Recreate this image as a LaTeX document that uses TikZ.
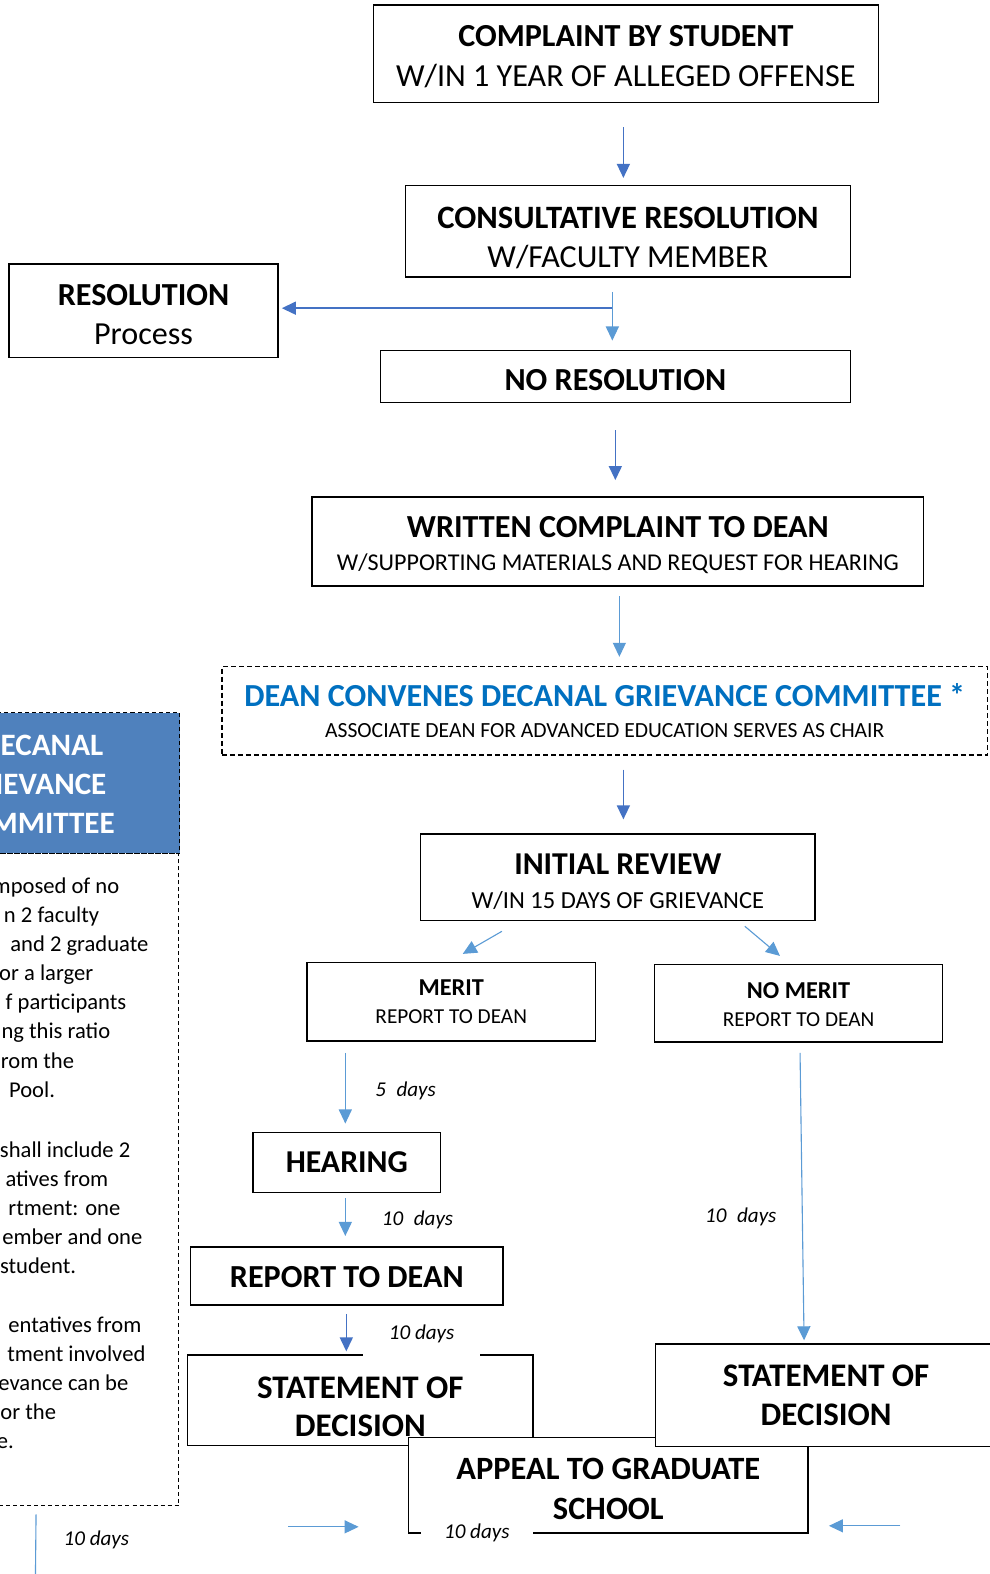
\documentclass[tikz,border=0pt]{standalone}
\usepackage{fontspec}
\setmainfont{Carlito}
\usetikzlibrary{arrows.meta,calc}
\definecolor{arrD}{RGB}{68,114,196}
\definecolor{arrL}{RGB}{91,155,213}
\definecolor{hdrblue}{RGB}{79,129,189}
\definecolor{txtblue}{RGB}{0,112,192}
\newcommand\mystrut[1]{\rule{0pt}{#1pt}}
\begin{document}
\begin{tikzpicture}[x=1pt,y=-1pt,
  box/.style={draw=black,line width=1.5pt,fill=white,inner sep=0pt,align=center,font=\fontsize{32}{39}\selectfont},
  dbox/.style={draw=black,line width=1.4pt,dash pattern=on 5pt off 3pt,inner sep=0pt,align=center},
  conD/.style={draw=arrD,line width=1.4pt,-{Triangle[length=14pt,width=13pt]}},
  conL/.style={draw=arrL,line width=1.1pt,-{Triangle[length=14pt,width=13pt]}},
  days/.style={font=\fontsize{21}{21}\selectfont\itshape,inner sep=0pt},
  frag/.style={anchor=base east,inner sep=0pt,font=\fontsize{22.5}{29}\selectfont}]
\useasboundingbox (0,0) rectangle (986,1568);
\clip (0,0) rectangle (986,1568);
\fill[white] (0,0) rectangle (986,1568);

% left panel
\node[dbox,line width=1.2pt,dash pattern=on 4pt off 3pt,minimum width=284pt,minimum height=650pt] (pbody) at (36,1175) {};
\node[dbox,line width=1.2pt,dash pattern=on 4pt off 3pt,fill=hdrblue,text=white,minimum width=284pt,minimum height=140pt,font=\fontsize{31}{39}\selectfont\bfseries] (hdr) at (37,780) {\hspace*{10pt}\mystrut{23}DECANAL\\\hspace*{-10pt}GRIEVANCE\\\hspace*{-6pt}COMMITTEE};
\node[frag] (f1) at (119,890) {mposed of no};
\node[frag] (f2) at (99,919) {n 2 faculty};
\node[frag] (f3) at (148,948) {and 2 graduate};
\node[frag] (f4) at (93,977) {or a larger};
\node[frag] (f5) at (126,1006) {f participants};
\node[frag] (f6) at (110,1035) {ng this ratio};
\node[frag] (f7) at (74,1064) {rom the};
\node[frag] (f8) at (55,1093) {Pool.};
\node[frag] (f9) at (130,1153) {shall include 2};
\node[frag] (f10) at (108,1182) {atives from};
\node[frag] (f11) at (120,1211) {rtment: one};
\node[frag] (f12) at (142,1240) {ember and one};
\node[frag] (f13) at (76,1269) {student.};
\node[frag] (f14) at (141,1327) {entatives from};
\node[frag] (f15) at (145,1356) {tment involved};
\node[frag] (f16) at (128,1385) {evance can be};
\node[frag] (f17) at (56,1414) {or the};
\node[frag] (f18) at (14,1443) {e.};
\coordinate (pend) at (35,1600);
\draw[conL,shorten <=8pt] (pbody.south) -- (pend);
\node[days] (d10e) at (96,1534) {10 days};

% main flow
\node[box,minimum width=503pt,minimum height=97pt] (complaint) at (623.5,53.5) {\mystrut{27}\textbf{COMPLAINT BY STUDENT}\\W/IN 1 YEAR OF ALLEGED OFFENSE};
\node[box,minimum width=443pt,minimum height=91pt] (consult) at (625.5,230.5) {\mystrut{35}{\fontsize{32.5}{39}\selectfont\bfseries CONSULTATIVE RESOLUTION}\\W/FACULTY MEMBER};
\node[box,minimum width=268pt,minimum height=93pt] (resol) at (143,309.5) {\mystrut{28}\textbf{RESOLUTION}\\Process};
\node[box,minimum width=468pt,minimum height=52pt] (noresol) at (613,375) {\mystrut{27.5}\textbf{NO RESOLUTION}};
\node[box,minimum width=609pt,minimum height=89pt,font=\fontsize{32}{33}\selectfont] (written) at (615.5,539.5) {\mystrut{28.5}\textbf{WRITTEN COMPLAINT TO DEAN}\\{\fontsize{24}{24}\selectfont W/SUPPORTING MATERIALS AND REQUEST FOR HEARING}};
\node[dbox,minimum width=763pt,minimum height=88pt,font=\fontsize{32}{31}\selectfont] (dean) at (602.5,708) {{\color{txtblue}\bfseries DEAN CONVENES DECANAL GRIEVANCE COMMITTEE *}\\{\fontsize{21.5}{21.5}\selectfont ASSOCIATE DEAN FOR ADVANCED EDUCATION SERVES AS CHAIR}};
\node[box,minimum width=393pt,minimum height=86pt,font=\fontsize{31.7}{34}\selectfont] (initial) at (615.5,874) {\mystrut{29.5}\textbf{INITIAL REVIEW}\\{\fontsize{24.4}{24}\selectfont W/IN 15 DAYS OF GRIEVANCE}};
\node[box,minimum width=287pt,minimum height=78pt,font=\fontsize{24.2}{28}\selectfont] (merit) at (449.5,998) {\textbf{MERIT}\\{\fontsize{21.2}{21}\selectfont REPORT TO DEAN}};
\node[box,minimum width=287pt,minimum height=77pt,font=\fontsize{24.2}{28}\selectfont] (nomerit) at (795.5,999.5) {\mystrut{19}\textbf{NO MERIT}\\{\fontsize{21.2}{21}\selectfont REPORT TO DEAN}};
\node[box,minimum width=187pt,minimum height=60pt,font=\fontsize{31.7}{39}\selectfont] (hearing) at (345.5,1158) {\textbf{HEARING}};
\node[box,minimum width=311pt,minimum height=58pt] (report) at (345.5,1271) {\mystrut{24}\textbf{REPORT TO DEAN}};
\node[box,minimum width=344pt,minimum height=90pt,font=\fontsize{32.8}{38}\selectfont\bfseries] (stmtL) at (359,1395) {\mystrut{35}STATEMENT OF\\DECISION};
\node[days,fill=white,minimum width=116pt,minimum height=48pt] (d10b) at (420,1329) {10 days};
\node[box,minimum width=398pt,minimum height=95pt,font=\fontsize{32.4}{40}\selectfont\bfseries] (appeal) at (606,1479.5) {\mystrut{29.5}APPEAL TO GRADUATE\\SCHOOL};
\node[days,fill=white,minimum width=112pt,minimum height=22pt] (d10d) at (475,1527) {10 days};
\node[box,minimum width=340pt,minimum height=102pt,font=\fontsize{32.8}{39}\selectfont\bfseries] (stmtR) at (823,1390) {\mystrut{22}STATEMENT OF\\DECISION};

% connectors
\coordinate (split) at (610,307);
\draw[conD,shorten <=24pt,shorten >=7pt] ($(complaint.south)+(-2.5,0)$) -- ($(complaint.south |- consult.north)+(-2.5,0)$);
\draw[conL,shorten <=14pt,shorten >=9pt] (consult.south -| split) -- (noresol.north -| split);
\draw[conD,shorten >=3pt] (split) -- (resol.east |- split);
\draw[conD,shorten <=27pt,shorten >=16pt] (noresol.south) -- (noresol.south |- written.north);
\draw[conL,shorten <=9pt,shorten >=9pt] ($(written.south)+(1.5,0)$) -- ($(written.south |- dean.north)+(1.5,0)$);
\draw[conD,shorten <=14pt,shorten >=14pt] ($(initial.north |- dean.south)+(5.5,0)$) -- ($(initial.north)+(5.5,0)$);
\draw[conL] ($(initial.south)+(-115.5,10)$) -- ($(merit.north)+(11.5,-8)$);
\draw[conL] ($(initial.south)+(126.5,5)$) -- ($(nomerit.north)+(-18.5,-8)$);
\draw[conL] ($(merit.south)+(-105.5,11)$) -- ($(hearing.north)+(-1.5,-8)$);
\draw[conL] ($(hearing.south)+(-1.5,5)$) -- ($(report.north)+(-1.5,-10)$);
\draw[conD] ($(report.south)+(-0.5,8)$) -- ($(stmtL.north)+(-14,-3)$);
\draw[conL] ($(nomerit.south)+(1.5,10)$) -- ($(stmtR.north)+(-22,-3)$);
\coordinate (la) at (287,1521);
\coordinate (ra) at (897,1520);
\draw[conL] (la) -- ($(appeal.west)+(-49,41.5)$);
\draw[conL] (ra) -- ($(appeal.east)+(20,40.5)$);

\node[days] (d5) at (404,1087) {5\enspace days};
\node[days] (d10a) at (416,1215) {10\enspace days};
\node[days] (d10c) at (738,1212) {10\enspace days};
\end{tikzpicture}
\end{document}
